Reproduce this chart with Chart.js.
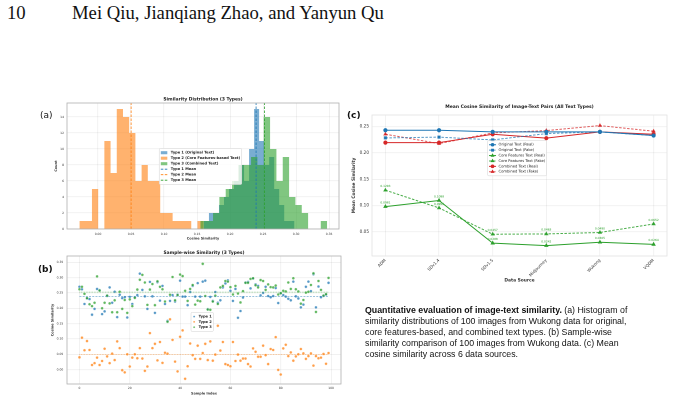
<!DOCTYPE html>
<html>
<head>
<meta charset="utf-8">
<script src="https://cdn.jsdelivr.net/npm/chart.js@4.4.0/dist/chart.umd.min.js"></script>
<style>
  html, body { margin: 0; padding: 0; background: #fff; }
  body { width: 674px; height: 402px; position: relative; overflow: hidden; }
  .abs { position: absolute; white-space: nowrap; }
  .head { font: 18.7px "Liberation Serif", serif; color: #111; top: 2px; }
  .tag { font: 9px "DejaVu Sans", sans-serif; color: #111; }
  canvas.abs { transform-origin: 0 0; }
  #caption { left: 365px; top: 305px; font: 8.8px "Liberation Sans", Arial, sans-serif; line-height: 11px; color: #111; }
</style>
</head>
<body>
<div class="abs head" style="left:7px">10</div>
<div class="abs head" style="left:72px">Mei Qiu, Jianqiang Zhao, and Yanyun Qu</div>

<canvas id="histA" class="abs"></canvas>
<canvas id="scatterB" class="abs"></canvas>
<canvas id="lineC" class="abs"></canvas>

<div class="abs tag" style="left:40px;top:110px">(a)</div>
<div class="abs tag" style="left:38px;top:264px;font-weight:bold">(b)</div>
<div class="abs tag" style="left:347px;top:110px;font-weight:bold">(c)</div>

<div id="caption" class="abs"><b>Quantitative evaluation of image-text similarity.</b> (a) Histogram of<br>similarity distributions of 100 images from Wukong data for original,<br>core features-based, and combined text types. (b) Sample-wise<br>similarity comparison of 100 images from Wukong data. (c) Mean<br>cosine similarity across 6 data sources.</div>

<script>
// ---- (a) histogram bins ----
const type1Edges = [0.1604, 0.1680, 0.1756, 0.1832, 0.1908, 0.1984, 0.2060, 0.2136, 0.2212, 0.2288, 0.2364,
  0.2440, 0.2516, 0.2592, 0.2668, 0.2744, 0.2820, 0.2896, 0.2972, 0.3048, 0.3124];
const type1Counts = [1, 2, 2, 3, 4, 5, 6, 8, 6, 10, 15, 11, 8, 9, 5, 3, 1, 1, 0, 0];
const type2Edges = [-0.0280, -0.0186, -0.0092, 0.0002, 0.0096, 0.0190, 0.0284, 0.0378, 0.0472, 0.0566, 0.0660,
  0.0754, 0.0848, 0.0942, 0.1036, 0.1130, 0.1224, 0.1318, 0.1412, 0.1506, 0.1600];
const type2Counts = [1, 1, 5, 0, 11, 7, 15, 14, 12, 6, 8, 6, 6, 2, 2, 1, 1, 1, 0, 1];
const type3Edges = [0.1550, 0.1646, 0.1742, 0.1838, 0.1934, 0.2030, 0.2126, 0.2222, 0.2318, 0.2414, 0.2510,
  0.2606, 0.2702, 0.2798, 0.2894, 0.2990, 0.3086, 0.3182, 0.3278, 0.3374, 0.3470];
const type3Counts = [1, 1, 2, 4, 5, 6, 8, 8, 9, 8, 14, 10, 6, 9, 4, 3, 2, 0, 0, 1];
const typeMeans = [0.2394, 0.0501, 0.2520];
const histXTicks = [0.00, 0.05, 0.10, 0.15, 0.20, 0.25, 0.30, 0.35];
const histYTicks = [0, 2, 4, 6, 8, 10, 12, 14];

// ---- (b) sample-wise similarity ----
const type1Scores = [0.270, 0.262, 0.214, 0.232, 0.230, 0.179, 0.198, 0.263, 0.259, 0.181,
  0.190, 0.241, 0.268, 0.218, 0.254, 0.171, 0.244, 0.233, 0.236, 0.170,
  0.237, 0.214, 0.236, 0.243, 0.313, 0.260, 0.239, 0.198, 0.286, 0.239,
  0.185, 0.285, 0.225, 0.273, 0.214, 0.159, 0.224, 0.243, 0.222, 0.245,
  0.290, 0.238, 0.238, 0.210, 0.253, 0.273, 0.238, 0.282, 0.238, 0.287,
  0.290, 0.197, 0.237, 0.224, 0.253, 0.218, 0.226, 0.268, 0.281, 0.291,
  0.257, 0.224, 0.263, 0.169, 0.191, 0.235, 0.284, 0.286, 0.265, 0.297,
  0.278, 0.273, 0.242, 0.250, 0.270, 0.240, 0.236, 0.240, 0.266, 0.217,
  0.249, 0.243, 0.238, 0.231, 0.226, 0.287, 0.239, 0.232, 0.203, 0.212,
  0.270, 0.287, 0.256, 0.311, 0.203, 0.271, 0.236, 0.241, 0.244, 0.283];
const type2Scores = [0.040, 0.104, 0.063, 0.093, 0.064, 0.015, 0.021, 0.039, 0.015, 0.028,
  0.068, 0.043, 0.021, 0.052, 0.031, 0.092, 0.070, -0.002, -0.009, 0.050,
  0.010, 0.039, 0.050, 0.037, 0.070, 0.036, -0.004, 0.010, 0.119, 0.070,
  0.084, 0.030, 0.090, 0.022, 0.055, 0.052, 0.164, 0.097, 0.026, -0.006,
  0.107, 0.128, -0.030, 0.011, 0.085, 0.047, 0.035, 0.078, 0.035, 0.054,
  0.084, 0.031, 0.092, 0.029, 0.049, 0.143, 0.062, 0.090, 0.018, 0.015,
  0.011, 0.090, 0.028, 0.049, 0.029, 0.036, 0.036, 0.018, 0.010, 0.069,
  0.058, 0.042, 0.042, 0.078, 0.047, 0.018, 0.067, 0.064, 0.106, -0.001,
  -0.016, 0.069, 0.081, 0.044, 0.056, 0.029, 0.043, 0.050, 0.067, 0.053,
  0.035, 0.044, 0.053, 0.013, 0.044, 0.037, 0.039, 0.051, 0.019, 0.054];
const type3Scores = [0.262, 0.270, 0.247, 0.233, 0.213, 0.207, 0.218, 0.304, 0.258, 0.200,
  0.218, 0.241, 0.216, 0.187, 0.226, 0.187, 0.254, 0.198, 0.227, 0.185,
  0.229, 0.207, 0.234, 0.261, 0.293, 0.309, 0.284, 0.211, 0.261, 0.279,
  0.210, 0.288, 0.270, 0.262, 0.222, 0.156, 0.244, 0.302, 0.226, 0.243,
  0.310, 0.305, 0.257, 0.224, 0.263, 0.276, 0.212, 0.225, 0.223, 0.345,
  0.240, 0.196, 0.195, 0.222, 0.241, 0.214, 0.268, 0.273, 0.289, 0.287,
  0.269, 0.245, 0.273, 0.248, 0.219, 0.256, 0.283, 0.283, 0.296, 0.298,
  0.275, 0.268, 0.292, 0.289, 0.260, 0.278, 0.269, 0.268, 0.274, 0.245,
  0.249, 0.257, 0.255, 0.284, 0.263, 0.298, 0.262, 0.255, 0.215, 0.227,
  0.251, 0.254, 0.276, 0.314, 0.188, 0.289, 0.260, 0.241, 0.246, 0.299];
const sampleMeans = [0.2390, 0.0490, 0.2520];
const sampleXTicks = [0, 20, 40, 60, 80, 100];
const sampleYTicks = [0.00, 0.05, 0.10, 0.15, 0.20, 0.25, 0.30, 0.35];

// ---- (c) mean cosine similarity per data source ----
const sources = ['ADM', 'SDv1.4', 'SDv1.5', 'Midjourney', 'Wukong', 'VQDM'];
const originalReal = [0.2430, 0.2430, 0.2400, 0.2400, 0.2400, 0.2330];
const originalFake = [0.2285, 0.2300, 0.2247, 0.2367, 0.2400, 0.2330];
const coreReal = [0.0981, 0.1098, 0.0288, 0.0242, 0.0305, 0.0264];
const coreFake = [0.1293, 0.0956, 0.0457, 0.0463, 0.0490, 0.0652];
const combinedReal = [0.2196, 0.2196, 0.2355, 0.2280, 0.2400, 0.2355];
const combinedFake = [0.2355, 0.2177, 0.2380, 0.2424, 0.2519, 0.2412];
const meanYTicks = [0.05, 0.10, 0.15, 0.20, 0.25];

// canvases are drawn K times larger and shrunk with CSS so tiny text keeps its shape
const K = 2;
const BLUE = '#1f77b4', ORANGE = '#ff7f0e', GREEN = '#2ca02c', RED = '#d62728';
const FONT = '"DejaVu Sans", sans-serif';
Chart.defaults.font.family = FONT;
Chart.defaults.color = '#333';
Chart.defaults.animation = false;

function place(id, left, top, w, h) {
  const c = document.getElementById(id);
  c.width = w * K;
  c.height = h * K;
  c.style.width = w * K + 'px';
  c.style.height = h * K + 'px';
  c.style.left = left + 'px';
  c.style.top = top + 'px';
  c.style.transform = `scale(${1 / K})`;
  return c;
}

function rgba(hex, a) {
  const n = parseInt(hex.slice(1), 16);
  return `rgba(${n >> 16},${(n >> 8) & 255},${n & 255},${a})`;
}

function steps(edges, counts) {
  const pts = counts.map((c, i) => ({ x: edges[i], y: c }));
  pts.push({ x: edges[edges.length - 1], y: counts[counts.length - 1] });
  return pts;
}

function fixedTicks(values) {
  return scale => { scale.ticks = values.map(v => ({ value: v })); };
}

// title centred over the plot area
const areaTitle = {
  id: 'areaTitle',
  afterDraw(chart, args, o) {
    const { ctx, chartArea: a } = chart;
    ctx.save();
    ctx.font = 'bold ' + o.size * K + 'px ' + FONT;
    ctx.fillStyle = '#222';
    ctx.textAlign = 'center';
    ctx.textBaseline = 'middle';
    ctx.fillText(o.text, (a.left + a.right) / 2, a.top - o.gap * K);
    ctx.restore();
  }
};

// frame around plot area
const framePlugin = {
  id: 'frame',
  afterDatasetsDraw(chart, args, o) {
    const { ctx, chartArea: a } = chart;
    ctx.save();
    ctx.strokeStyle = o.color;
    ctx.lineWidth = o.width * K;
    ctx.strokeRect(a.left, a.top, a.width, a.height);
    ctx.restore();
  }
};

// matplotlib-like legend box placed inside the plot
const boxLegend = {
  id: 'boxLegend',
  afterDraw(chart, args, o) {
    const { ctx, chartArea: a } = chart;
    const items = chart.data.datasets.filter(d => d.legendKind);
    const pad = o.pad * K, row = o.row * K, sym = o.sym * K, gap = o.gap * K;
    ctx.save();
    ctx.font = (o.bold ? 'bold ' : '') + o.size * K + 'px ' + FONT;
    const tw = Math.max(...items.map(d => ctx.measureText(d.label).width));
    const w = pad * 2 + sym + gap + tw;
    const h = pad * 2 + row * items.length;
    const x0 = a.left + o.x * a.width, y0 = a.top + o.y * a.height;
    ctx.fillStyle = 'rgba(255,255,255,0.8)';
    ctx.strokeStyle = '#d0d0d0';
    ctx.lineWidth = 0.5 * K;
    ctx.beginPath();
    ctx.roundRect(x0, y0, w, h, 1.2 * K);
    ctx.fill();
    ctx.stroke();
    items.forEach((d, i) => {
      const cy = y0 + pad + row * (i + 0.5);
      const sx = x0 + pad;
      if (d.legendKind === 'patch') {
        ctx.fillStyle = d.backgroundColor;
        ctx.fillRect(sx, cy - row * 0.28, sym, row * 0.56);
      }
      if (d.legendKind === 'line' || d.legendKind === 'lineMarker') {
        ctx.strokeStyle = d.borderColor;
        ctx.lineWidth = d.borderWidth;
        ctx.setLineDash(d.borderDash || []);
        ctx.beginPath();
        ctx.moveTo(sx, cy);
        ctx.lineTo(sx + sym, cy);
        ctx.stroke();
        ctx.setLineDash([]);
      }
      if (d.legendKind === 'marker' || d.legendKind === 'lineMarker') {
        ctx.fillStyle = d.backgroundColor;
        ctx.strokeStyle = d.legendKind === 'marker' ? '#ffffff' : d.backgroundColor;
        Chart.helpers.drawPoint(ctx, { pointStyle: d.pointStyle || 'circle', radius: o.markerRadius * K,
          borderWidth: 0.3 * K, rotation: 0 }, sx + sym / 2, cy);
      }
      ctx.fillStyle = '#222';
      ctx.textBaseline = 'middle';
      ctx.textAlign = 'left';
      ctx.fillText(d.label, sx + sym + gap, cy);
    });
    ctx.restore();
  }
};

// value labels above points
const valueLabels = {
  id: 'valueLabels',
  afterDatasetsDraw(chart, args, o) {
    const ctx = chart.ctx;
    ctx.save();
    ctx.font = o.size * K + 'px ' + FONT;
    ctx.textAlign = 'center';
    ctx.textBaseline = 'bottom';
    chart.data.datasets.forEach((d, di) => {
      if (!d.showValues) return;
      ctx.fillStyle = GREEN;
      chart.getDatasetMeta(di).data.forEach((el, i) => {
        ctx.fillText(d.data[i].y.toFixed(4), el.x, el.y - o.offset * K);
      });
    });
    ctx.restore();
  }
};

const gridStyle = { color: 'rgba(0,0,0,0.09)', lineWidth: 0.6 * K, drawTicks: false };
const f = (size, weight) => ({ size: size * K, weight: weight || 'normal' });
const dash = (a, b) => [a * K, b * K];

// ---- (a) ----
new Chart(place('histA', 30, 90, 320, 160), {
  type: 'line',
  data: {
    datasets: [
      { label: 'Type 1 (Original Text)', data: steps(type1Edges, type1Counts), stepped: true, fill: 'origin',
        backgroundColor: rgba(BLUE, 0.6), borderWidth: 0, pointRadius: 0, order: 6, legendKind: 'patch' },
      { label: 'Type 2 (Core Features-based Text)', data: steps(type2Edges, type2Counts), stepped: true, fill: 'origin',
        backgroundColor: rgba(ORANGE, 0.6), borderWidth: 0, pointRadius: 0, order: 5, legendKind: 'patch' },
      { label: 'Type 3 (Combined Text)', data: steps(type3Edges, type3Counts), stepped: true, fill: 'origin',
        backgroundColor: rgba(GREEN, 0.6), borderWidth: 0, pointRadius: 0, order: 4, legendKind: 'patch' },
      { label: 'Type 1 Mean', data: [{ x: typeMeans[0], y: 0 }, { x: typeMeans[0], y: 16 }],
        borderColor: BLUE, borderWidth: 0.8 * K, borderDash: dash(2.5, 1.5), pointRadius: 0, order: 3, legendKind: 'line' },
      { label: 'Type 2 Mean', data: [{ x: typeMeans[1], y: 0 }, { x: typeMeans[1], y: 16 }],
        borderColor: ORANGE, borderWidth: 0.8 * K, borderDash: dash(2.5, 1.5), pointRadius: 0, order: 2, legendKind: 'line' },
      { label: 'Type 3 Mean', data: [{ x: typeMeans[2], y: 0 }, { x: typeMeans[2], y: 16 }],
        borderColor: GREEN, borderWidth: 0.8 * K, borderDash: dash(2.5, 1.5), pointRadius: 0, order: 1, legendKind: 'line' }
    ]
  },
  options: {
    responsive: false,
    devicePixelRatio: 1,
    layout: { padding: { left: 0, right: 11 * K, top: 13 * K, bottom: 0 } },
    plugins: {
      legend: { display: false },
      tooltip: { enabled: false },
      areaTitle: { text: 'Similarity Distribution (3 Types)', size: 4.4, gap: 3.7 },
      frame: { color: '#b0b0b0', width: 0.8 },
      boxLegend: { x: 0.339, y: 0.36, size: 3.6, bold: true, row: 5.5, pad: 1.6, sym: 6.5, gap: 3.5, markerRadius: 1 }
    },
    scales: {
      x: { type: 'linear', min: -0.047, max: 0.365, afterBuildTicks: fixedTicks(histXTicks),
        afterFit: s => { s.height = 21 * K; },
        grid: gridStyle, border: { display: false },
        ticks: { font: f(3), padding: 3.2 * K, callback: v => v.toFixed(2) },
        title: { display: true, text: 'Cosine Similarity', font: f(3.4, 'bold'), padding: { bottom: 9.3 * K } } },
      y: { min: 0, max: 15.75, afterBuildTicks: fixedTicks(histYTicks),
        afterFit: s => { s.width = 37 * K; },
        grid: gridStyle, border: { display: false },
        ticks: { font: f(3), padding: 3 * K },
        title: { display: true, text: 'Count', font: f(3.4, 'bold'), padding: { top: 24 * K } } }
    }
  },
  plugins: [areaTitle, framePlugin, boxLegend]
});

// ---- (b) ----
const idx = type1Scores.map((_, i) => i);
const dot = { borderColor: '#ffffff', borderWidth: 0.3 * K, pointRadius: 1.4 * K, legendKind: 'marker' };
new Chart(place('scatterB', 30, 245, 320, 155), {
  type: 'scatter',
  data: {
    datasets: [
      { label: 'Type 1', data: idx.map(i => ({ x: i, y: type1Scores[i] })), backgroundColor: rgba(BLUE, 0.75), order: 6, ...dot },
      { label: 'Type 2', data: idx.map(i => ({ x: i, y: type2Scores[i] })), backgroundColor: rgba(ORANGE, 0.75), order: 5, ...dot },
      { label: 'Type 3', data: idx.map(i => ({ x: i, y: type3Scores[i] })), backgroundColor: rgba(GREEN, 0.75), order: 4, ...dot },
      { type: 'line', data: [{ x: 0, y: sampleMeans[0] }, { x: 99, y: sampleMeans[0] }],
        borderColor: rgba(BLUE, 0.7), borderWidth: 0.6 * K, borderDash: dash(2, 1.2), pointRadius: 0, order: 3 },
      { type: 'line', data: [{ x: 0, y: sampleMeans[1] }, { x: 99, y: sampleMeans[1] }],
        borderColor: rgba(ORANGE, 0.5), borderWidth: 0.8 * K, borderDash: dash(0.8, 0.8), pointRadius: 0, order: 2 },
      { type: 'line', data: [{ x: 0, y: sampleMeans[2] }, { x: 99, y: sampleMeans[2] }],
        borderColor: rgba(GREEN, 0.3), borderWidth: 1.6 * K, borderDash: dash(0.8, 0.8), pointRadius: 0, order: 1 }
    ]
  },
  options: {
    responsive: false,
    devicePixelRatio: 1,
    layout: { padding: { left: 0, right: 9 * K, top: 11 * K, bottom: 0 } },
    plugins: {
      legend: { display: false },
      tooltip: { enabled: false },
      areaTitle: { text: 'Sample-wise Similarity (3 Types)', size: 4.4, gap: 3 },
      frame: { color: '#b0b0b0', width: 0.8 },
      boxLegend: { x: 0.4526, y: 0.44, size: 3.6, bold: true, row: 5.3, pad: 1.6, sym: 3, gap: 3, markerRadius: 1.1 }
    },
    scales: {
      x: { type: 'linear', min: -4.95, max: 103.95, afterBuildTicks: fixedTicks(sampleXTicks),
        afterFit: s => { s.height = 16 * K; },
        grid: gridStyle, border: { display: false },
        ticks: { font: f(3), padding: 2.5 * K },
        title: { display: true, text: 'Sample Index', font: f(3.4, 'bold'), padding: { bottom: 4.3 * K } } },
      y: { min: -0.047, max: 0.3705, afterBuildTicks: fixedTicks(sampleYTicks),
        afterFit: s => { s.width = 37 * K; },
        grid: gridStyle, border: { display: false },
        ticks: { font: f(3), padding: 3.7 * K, callback: v => v.toFixed(2) },
        title: { display: true, text: 'Cosine Similarity', font: f(3.4, 'bold'), padding: { top: 20.7 * K } } }
    }
  },
  plugins: [areaTitle, framePlugin, boxLegend]
});

// ---- (c) ----
function series(values) { return values.map((v, i) => ({ x: i, y: v })); }
const lineBase = { borderWidth: 1 * K, pointRadius: 1.6 * K, legendKind: 'lineMarker' };
new Chart(place('lineC', 340, 95, 334, 200), {
  type: 'line',
  data: {
    datasets: [
      { label: 'Original Text (Real)', data: series(originalReal), borderColor: BLUE, backgroundColor: BLUE,
        pointStyle: 'circle', ...lineBase },
      { label: 'Original Text (Fake)', data: series(originalFake), borderColor: rgba(BLUE, 0.75), backgroundColor: BLUE,
        borderDash: dash(2.5, 1.5), pointStyle: 'rect', ...lineBase },
      { label: 'Core Features Text (Real)', data: series(coreReal), borderColor: GREEN, backgroundColor: GREEN,
        pointStyle: 'triangle', showValues: true, ...lineBase },
      { label: 'Core Features Text (Fake)', data: series(coreFake), borderColor: rgba(GREEN, 0.85), backgroundColor: GREEN,
        borderDash: dash(2.5, 1.5), pointStyle: 'triangle', showValues: true, ...lineBase },
      { label: 'Combined Text (Real)', data: series(combinedReal), borderColor: RED, backgroundColor: RED,
        pointStyle: 'circle', ...lineBase },
      { label: 'Combined Text (Fake)', data: series(combinedFake), borderColor: rgba(RED, 0.75), backgroundColor: RED,
        borderDash: dash(2.5, 1.5), pointStyle: 'triangle', ...lineBase }
    ]
  },
  options: {
    responsive: false,
    devicePixelRatio: 1,
    layout: { padding: { left: 0, right: 7 * K, top: 20 * K, bottom: 0 } },
    plugins: {
      legend: { display: false },
      tooltip: { enabled: false },
      areaTitle: { text: 'Mean Cosine Similarity of Image-Text Pairs (All Text Types)', size: 4.5, gap: 8.3 },
      frame: { color: '#e2e2e2', width: 0.8 },
      boxLegend: { x: 0.392, y: 0.182, size: 3.7, bold: false, row: 5.4, pad: 1.4, sym: 7, gap: 2.5, markerRadius: 1.3 },
      valueLabels: { size: 2.9, offset: 2.5 }
    },
    scales: {
      x: { type: 'linear', min: -0.25, max: 5.25, afterBuildTicks: fixedTicks(sources.map((_, i) => i)),
        afterFit: s => { s.height = 39 * K; },
        grid: gridStyle, border: { display: false },
        ticks: { font: f(4.2), padding: 2 * K, minRotation: 45, maxRotation: 45, callback: v => sources[v] },
        title: { display: true, text: 'Data Source', font: f(4.4, 'bold'), padding: { bottom: 12 * K } } },
      y: { min: 0.0044, max: 0.272, afterBuildTicks: fixedTicks(meanYTicks),
        afterFit: s => { s.width = 32 * K; },
        grid: gridStyle, border: { display: false },
        ticks: { font: f(4.2), padding: 3 * K, callback: v => v.toFixed(2) },
        title: { display: true, text: 'Mean Cosine Similarity', font: f(4.3, 'bold'), padding: { top: 11.4 * K } } }
    }
  },
  plugins: [areaTitle, framePlugin, boxLegend, valueLabels]
});
</script>
</body>
</html>
